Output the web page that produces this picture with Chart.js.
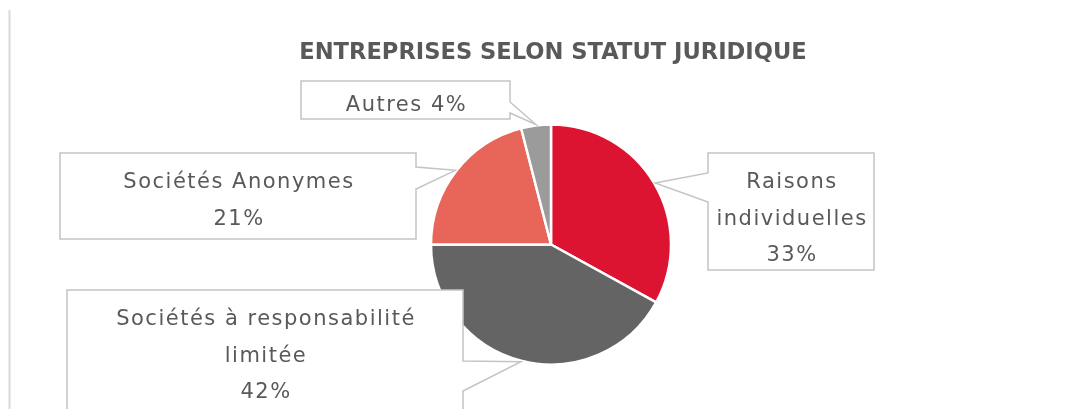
<!DOCTYPE html>
<html>
<head>
<meta charset="utf-8">
<script src="https://cdn.jsdelivr.net/npm/chart.js@4"></script>
<style>
  html, body { margin: 0; padding: 0; background: #fff; }
  #wrap { width: 1080px; height: 409px; position: relative; }
</style>
</head>
<body>
<div id="wrap"><canvas id="pieChart"></canvas></div>
<script>
// data
var chartTitle = 'ENTREPRISES SELON STATUT JURIDIQUE';
var categories = [['Raisons', 'individuelles'], ['Sociétés à responsabilité', 'limitée'], ['Sociétés Anonymes'], ['Autres']];
var shares = [33, 42, 21, 4];
var sliceColors = ['#DC1431', '#646464', '#E8655A', '#9B9B9B'];

var FONT = '"DejaVu Sans", "Noto Sans", sans-serif';
var TEXT = '#595959';

// callout boxes: rect + which side the pointer leaves from
var callouts = [
    { x1: 708, y1: 153, x2: 874, y2: 270, side: 'left',  pTop: 173, pBot: 202, base: 188, inline: false },
    { x1: 67,  y1: 290, x2: 463, y2: 440, side: 'right', pTop: 361, pBot: 391, base: 325, inline: false },
    { x1: 60,  y1: 153, x2: 416, y2: 239, side: 'right', pTop: 167, pBot: 189, base: 188, inline: false },
    { x1: 301, y1: 81,  x2: 510, y2: 119, side: 'right', pTop: 102, pBot: 113, base: 111, inline: true }
];

var calloutPlugin = {
    id: 'callouts',
    beforeDraw: function (chart) {
        var c = chart.ctx;
        c.save();
        c.strokeStyle = '#D9D9D9';
        c.lineWidth = 2;
        c.beginPath();
        c.moveTo(9.5, 10);
        c.lineTo(9.5, 409);
        c.stroke();

        c.fillStyle = TEXT;
        c.font = 'bold 22.6px ' + FONT;
        c.textAlign = 'center';
        c.textBaseline = 'alphabetic';
        c.fillText(chartTitle, 553, 59);
        c.restore();
    },
    afterDatasetsDraw: function (chart) {
        var c = chart.ctx;
        var arcs = chart.getDatasetMeta(0).data;
        c.save();
        callouts.forEach(function (b, i) {
            var a = arcs[i];
            var mid = (a.startAngle + a.endAngle) / 2;
            var tx = a.x + Math.cos(mid) * (a.outerRadius + 1);
            var ty = a.y + Math.sin(mid) * (a.outerRadius + 1);

            c.beginPath();
            c.moveTo(b.x1, b.y1);
            c.lineTo(b.x2, b.y1);
            if (b.side === 'right') {
                c.lineTo(b.x2, b.pTop);
                c.lineTo(tx, ty);
                c.lineTo(b.x2, b.pBot);
            }
            c.lineTo(b.x2, b.y2);
            c.lineTo(b.x1, b.y2);
            if (b.side === 'left') {
                c.lineTo(b.x1, b.pBot);
                c.lineTo(tx, ty);
                c.lineTo(b.x1, b.pTop);
            }
            c.closePath();
            c.fillStyle = '#fff';
            c.fill();
            c.strokeStyle = '#C4C4C4';
            c.lineWidth = 1.5;
            c.stroke();

            var pct = shares[i] + '%';
            var lines = categories[i].slice();
            if (b.inline) lines[lines.length - 1] += ' ' + pct;
            else lines.push(pct);
            c.fillStyle = TEXT;
            c.font = '21px ' + FONT;
            c.letterSpacing = '1.5px';
            c.textAlign = 'center';
            c.textBaseline = 'alphabetic';
            var cx = (b.x1 + b.x2) / 2 + 1;
            lines.forEach(function (t, k) {
                c.fillText(t, cx, b.base + k * 36.5);
            });
        });
        c.restore();
    }
};

new Chart(document.getElementById('pieChart'), {
    type: 'pie',
    data: {
        labels: categories,
        datasets: [{
            data: shares,
            backgroundColor: sliceColors,
            borderColor: '#ffffff',
            borderWidth: 2.5
        }]
    },
    options: {
        responsive: true,
        maintainAspectRatio: false,
        animation: false,
        radius: 120,
        layout: { padding: { left: 429, right: 407, top: 124, bottom: 44 } },
        plugins: {
            legend: { display: false },
            tooltip: { enabled: false },
            title: { display: false }
        }
    },
    plugins: [calloutPlugin]
});
</script>
</body>
</html>
